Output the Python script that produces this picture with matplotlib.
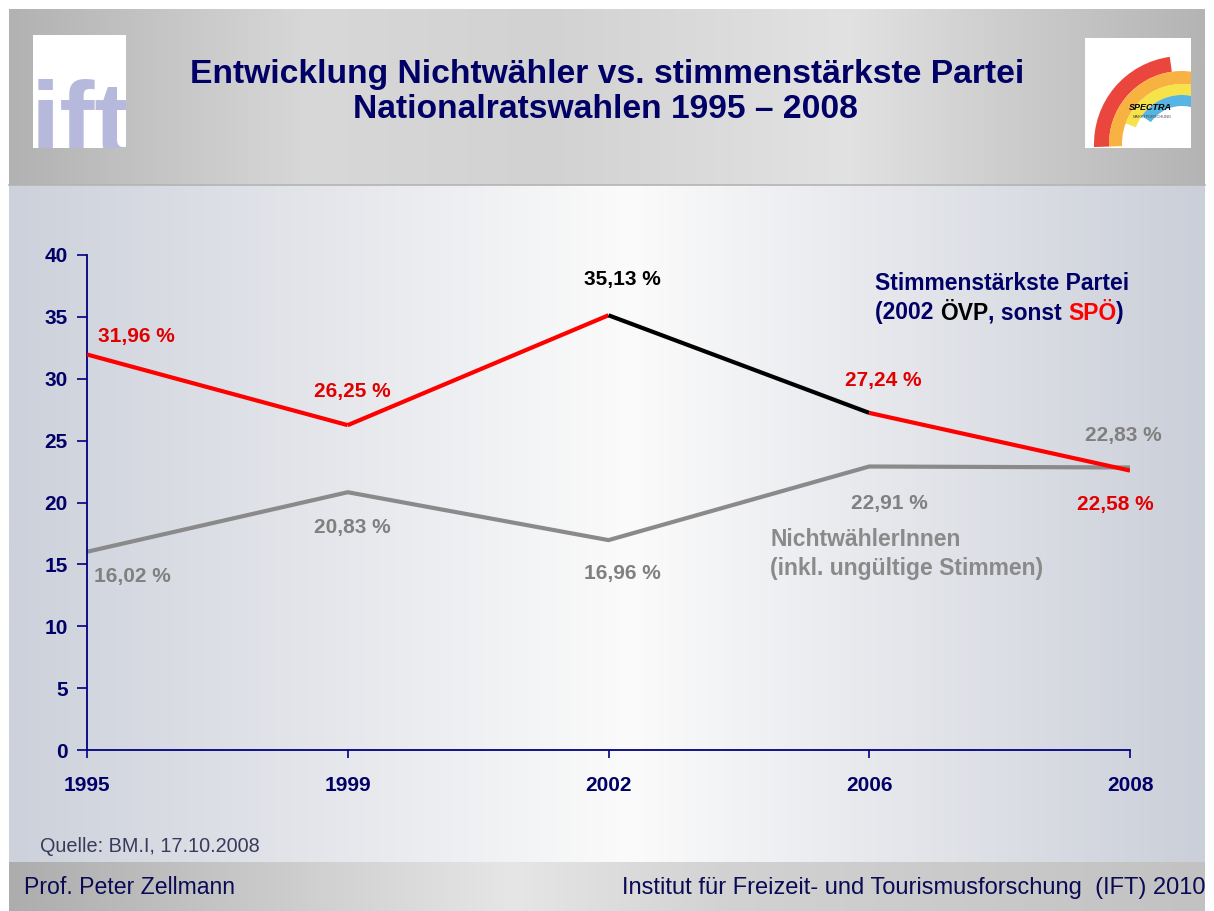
import numpy as np
import matplotlib
matplotlib.use("Agg")
import matplotlib.pyplot as plt
from matplotlib import font_manager
from matplotlib.colors import LinearSegmentedColormap
from matplotlib.patches import Rectangle, Wedge
from matplotlib.transforms import Bbox, TransformedBbox

# Data (Nationalratswahlen Österreich)
years = ["1995", "1999", "2002", "2006", "2008"]
party = [31.96, 26.25, 35.13, 27.24, 22.58]
party_name = ["SPÖ", "SPÖ", "ÖVP", "SPÖ", "SPÖ"]
nonvoters = [16.02, 20.83, 16.96, 22.91, 22.83]
party_labels = ["31,96 %", "26,25 %", "35,13 %", "27,24 %", "22,58 %"]
nonvoter_labels = ["16,02 %", "20,83 %", "16,96 %", "22,91 %", "22,83 %"]
yticks = [0, 5, 10, 15, 20, 25, 30, 35, 40]

# label offsets in pixels
party_off = [(49, 18), (5, 34), (14, 36), (14, 32), (-15, -34)]
nonv_off = [(45, -25), (5, -35), (14, -33), (20, -37), (-7, 32)]

party_colors = {"SPÖ": "#ff0000", "ÖVP": "#000000"}
label_colors = {"SPÖ": "#e00000", "ÖVP": "#000000"}
NAVY = "#000066"
GRAY = "#8a8a8a"
FONT = "Liberation Sans"
avail = {f.name for f in font_manager.fontManager.ttflist}
LOGO_FONT = "Liberation Sans Narrow" if "Liberation Sans Narrow" in avail else FONT

W, H = 1214, 911
fig = plt.figure(figsize=(W / 100, H / 100), dpi=100)
fig.patch.set_facecolor("white")

# background axes in pixel coordinates
bg = fig.add_axes([0, 0, 1, 1])
bg.axis("off")


def hgrad(x0, x1, y0, y1, stops):
    cmap = LinearSegmentedColormap.from_list("g", stops)
    grad = np.linspace(0, 1, 512)[None, :]
    bg.imshow(grad, cmap=cmap, extent=(x0, x1, y1, y0), aspect="auto",
              interpolation="bilinear", zorder=0)


# header, body, footer
hgrad(9, 1205, 9, 185, [(0, "#b2b2b2"), (0.25, "#d8d8d8"), (0.45, "#d2d2d2"),
                        (0.7, "#e2e2e2"), (1, "#b4b4b4")])
hgrad(9, 1205, 185, 862, [(0, "#cdd1db"), (0.52, "#fbfbfb"), (1, "#cbcfd9")])
hgrad(9, 1205, 862, 911, [(0, "#adadad"), (0.42, "#e6e6e6"), (0.6, "#d2d2d2"),
                          (1, "#c2c2c2")])
bg.plot([9, 1205], [185, 185], color="#b4b4b4", lw=1.2, zorder=1)

bg.set_xlim(0, W)
bg.set_ylim(H, 0)

# ift logo
bg.add_patch(Rectangle((33, 35), 93, 113, facecolor="white", edgecolor="none", zorder=2))
ift = bg.text(80, 156, "ift", fontsize=76, fontweight="bold", family=LOGO_FONT,
              color="#b6b9db", ha="center", va="baseline", zorder=3)
ift.set_clip_box(TransformedBbox(Bbox([[33, 35], [126, 148]]), bg.transData))
ift.set_clip_on(True)

# spectra logo
box = Rectangle((1085, 38), 106, 110, facecolor="white", edgecolor="none", zorder=2)
bg.add_patch(box)
clip = Rectangle((1085, 38), 106, 110, transform=bg.transData)
for r, w, col, t1, t2 in [(88, 15, "#e8261c", 178, 262),
                          (73, 13, "#f6a51f", 178, 298),
                          (60, 11, "#f5de2a", 200, 310),
                          (49, 11, "#3aa7de", 215, 320)]:
    wd = Wedge((1182, 144), r, t1, t2, width=w, facecolor=col, edgecolor="none",
               alpha=0.85, zorder=3)
    bg.add_patch(wd)
    wd.set_clip_path(clip)
bg.text(1150, 108, "SPECTRA", fontsize=6.5, fontweight="bold", style="italic",
        family=FONT, color="black", ha="center", va="center", zorder=4)
bg.text(1152, 117, "MARKTFORSCHUNG", fontsize=2.8, family=FONT, color="#444444",
        ha="center", va="center", zorder=4)

# title
bg.text(607, 75, "Entwicklung Nichtwähler vs. stimmenstärkste Partei", fontsize=24.2,
        fontweight="bold", family=FONT, color=NAVY, ha="center", va="center", zorder=4)
bg.text(605, 110, "Nationalratswahlen 1995 – 2008", fontsize=24.2,
        fontweight="bold", family=FONT, color=NAVY, ha="center", va="center", zorder=4)

# source + footer
bg.text(40, 846, "Quelle: BM.I, 17.10.2008", fontsize=14.3, family=FONT,
        color="#3a3a5a", ha="left", va="center", zorder=4)
bg.text(24, 888, "Prof. Peter Zellmann", fontsize=16.6, family=FONT,
        color="#0a0a55", ha="left", va="center", zorder=4)
bg.text(1205, 888, "Institut für Freizeit- und Tourismusforschung  (IFT) 2010",
        fontsize=17, family=FONT, color="#0a0a55", ha="right", va="center", zorder=4)

# chart axes
ax = fig.add_axes([87 / W, (H - 750) / H, (1130 - 87) / W, (750 - 255) / H])
ax.patch.set_alpha(0)
x = np.arange(len(years))

for i in range(len(x) - 1):
    ax.plot(x[i:i + 2], party[i:i + 2], color=party_colors[party_name[i]], lw=3,
            solid_capstyle="butt", zorder=3)
ax.plot(x, nonvoters, color=GRAY, lw=3, zorder=2)

for i in range(len(x)):
    ax.annotate(party_labels[i], (x[i], party[i]), xytext=party_off[i],
                textcoords="offset pixels", ha="center", va="center",
                fontsize=15, fontweight="bold", family=FONT,
                color=label_colors[party_name[i]], annotation_clip=False)
    ax.annotate(nonvoter_labels[i], (x[i], nonvoters[i]), xytext=nonv_off[i],
                textcoords="offset pixels", ha="center", va="center",
                fontsize=15, fontweight="bold", family=FONT,
                color="#808080", annotation_clip=False)

ax.set_xlim(0, len(x) - 1)
ax.set_ylim(0, 40)
ax.set_xticks(x)
ax.set_xticklabels(years)
ax.set_yticks(yticks)
for s in ["top", "right"]:
    ax.spines[s].set_visible(False)
for s in ["left", "bottom"]:
    ax.spines[s].set_color("#000080")
    ax.spines[s].set_linewidth(1.3)
ax.tick_params(axis="y", direction="out", length=7, width=1.2, color="#000080",
               labelcolor=NAVY, labelsize=15, pad=7)
ax.tick_params(axis="x", direction="out", length=6, width=1.2, color="#000080",
               labelcolor=NAVY, labelsize=15, pad=13)
for lab in ax.get_xticklabels() + ax.get_yticklabels():
    lab.set_fontweight("bold")
    lab.set_family(FONT)

# series notes
bg.text(875, 283, "Stimmenstärkste Partei", fontsize=16.5, fontweight="bold",
        family=FONT, color=NAVY, ha="left", va="center", zorder=4)
pieces = [("(2002 ", NAVY), ("ÖVP", "black"), (", sonst ", NAVY), ("SPÖ", "red"), (")", NAVY)]
prev = bg.text(875, 313, pieces[0][0], fontsize=16.5, fontweight="bold", family=FONT,
               color=pieces[0][1], ha="left", va="center", zorder=4)
for txt, col in pieces[1:]:
    prev = bg.annotate(txt, xy=(1, 0), xycoords=prev, ha="left", va="bottom",
                       fontsize=16.5, fontweight="bold", family=FONT, color=col, zorder=4)

bg.text(770, 539, "NichtwählerInnen", fontsize=16.5, fontweight="bold", family=FONT,
        color=GRAY, ha="left", va="center", zorder=4)
bg.text(770, 569, "(inkl. ungültige Stimmen)", fontsize=16.5, fontweight="bold",
        family=FONT, color=GRAY, ha="left", va="center", zorder=4)

fig.savefig("out.png", dpi=100, facecolor=fig.get_facecolor())
